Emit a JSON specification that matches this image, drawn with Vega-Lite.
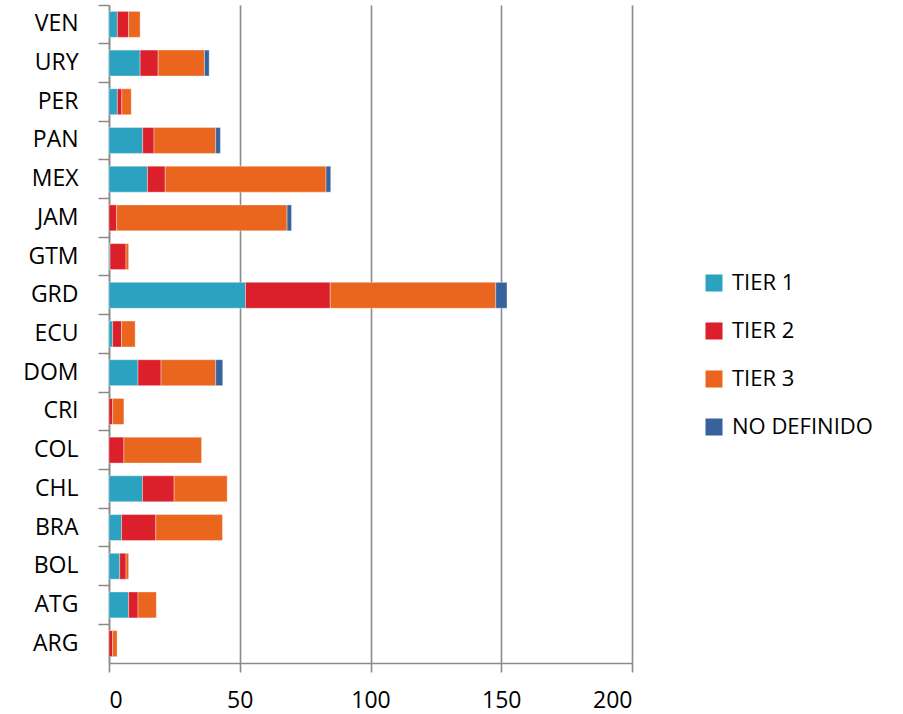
{
  "$schema": "https://vega.github.io/schema/vega-lite/v6.json",
  "width": 523,
  "height": 658,
  "autosize": "none",
  "padding": {"left": 109, "top": 5, "right": 271, "bottom": 51},
  "background": "white",
  "config": {
    "font": "Open Sans",
    "view": {"stroke": null}
  },
  "data": {
    "values": [
      {"pais": "VEN", "tier": "TIER 1", "n": 3.2},
      {"pais": "VEN", "tier": "TIER 2", "n": 4.3},
      {"pais": "VEN", "tier": "TIER 3", "n": 4.4},
      {"pais": "URY", "tier": "TIER 1", "n": 11.9},
      {"pais": "URY", "tier": "TIER 2", "n": 6.9},
      {"pais": "URY", "tier": "TIER 3", "n": 17.7},
      {"pais": "URY", "tier": "NO DEFINIDO", "n": 1.8},
      {"pais": "PER", "tier": "TIER 1", "n": 3.2},
      {"pais": "PER", "tier": "TIER 2", "n": 1.7},
      {"pais": "PER", "tier": "TIER 3", "n": 3.6},
      {"pais": "PAN", "tier": "TIER 1", "n": 12.9},
      {"pais": "PAN", "tier": "TIER 2", "n": 4.3},
      {"pais": "PAN", "tier": "TIER 3", "n": 23.6},
      {"pais": "PAN", "tier": "NO DEFINIDO", "n": 1.8},
      {"pais": "MEX", "tier": "TIER 1", "n": 14.7},
      {"pais": "MEX", "tier": "TIER 2", "n": 6.8},
      {"pais": "MEX", "tier": "TIER 3", "n": 61.5},
      {"pais": "MEX", "tier": "NO DEFINIDO", "n": 1.8},
      {"pais": "JAM", "tier": "TIER 2", "n": 2.9},
      {"pais": "JAM", "tier": "TIER 3", "n": 65.2},
      {"pais": "JAM", "tier": "NO DEFINIDO", "n": 1.7},
      {"pais": "GTM", "tier": "TIER 1", "n": 0.4},
      {"pais": "GTM", "tier": "TIER 2", "n": 6.1},
      {"pais": "GTM", "tier": "TIER 3", "n": 1},
      {"pais": "GRD", "tier": "TIER 1", "n": 52.2},
      {"pais": "GRD", "tier": "TIER 2", "n": 32.4},
      {"pais": "GRD", "tier": "TIER 3", "n": 63.3},
      {"pais": "GRD", "tier": "NO DEFINIDO", "n": 4.3},
      {"pais": "ECU", "tier": "TIER 1", "n": 1.4},
      {"pais": "ECU", "tier": "TIER 2", "n": 3.4},
      {"pais": "ECU", "tier": "TIER 3", "n": 5.2},
      {"pais": "DOM", "tier": "TIER 1", "n": 11.1},
      {"pais": "DOM", "tier": "TIER 2", "n": 8.8},
      {"pais": "DOM", "tier": "TIER 3", "n": 20.9},
      {"pais": "DOM", "tier": "NO DEFINIDO", "n": 2.7},
      {"pais": "CRI", "tier": "TIER 2", "n": 1.4},
      {"pais": "CRI", "tier": "TIER 3", "n": 4.3},
      {"pais": "COL", "tier": "TIER 2", "n": 5.7},
      {"pais": "COL", "tier": "TIER 3", "n": 29.7},
      {"pais": "CHL", "tier": "TIER 1", "n": 12.8},
      {"pais": "CHL", "tier": "TIER 2", "n": 12.1},
      {"pais": "CHL", "tier": "TIER 3", "n": 20.3},
      {"pais": "BRA", "tier": "TIER 1", "n": 4.8},
      {"pais": "BRA", "tier": "TIER 2", "n": 13.1},
      {"pais": "BRA", "tier": "TIER 3", "n": 25.5},
      {"pais": "BOL", "tier": "TIER 1", "n": 4.1},
      {"pais": "BOL", "tier": "TIER 2", "n": 2.4},
      {"pais": "BOL", "tier": "TIER 3", "n": 1},
      {"pais": "ATG", "tier": "TIER 1", "n": 7.5},
      {"pais": "ATG", "tier": "TIER 2", "n": 3.6},
      {"pais": "ATG", "tier": "TIER 3", "n": 7},
      {"pais": "ARG", "tier": "TIER 2", "n": 1.4},
      {"pais": "ARG", "tier": "TIER 3", "n": 1.7}
    ]
  },
  "transform": [
    {"calculate": "indexof(['TIER 1', 'TIER 2', 'TIER 3', 'NO DEFINIDO'], datum.tier)", "as": "orden"}
  ],
  "mark": {
    "type": "bar",
    "height": {"band": 0.67},
    "stroke": "white",
    "strokeWidth": 0.6,
    "strokeOpacity": 0.6
  },
  "encoding": {
    "y": {
      "field": "pais",
      "type": "nominal",
      "sort": "descending",
      "title": null,
      "scale": {"paddingInner": 0, "paddingOuter": 0},
      "axis": {
        "bandPosition": 0,
        "domainColor": "#8a8a8a",
        "domainWidth": 1.5,
        "tickColor": "#8a8a8a",
        "tickWidth": 1.5,
        "tickSize": 11,
        "labelFontSize": 23,
        "labelColor": "black",
        "labelPadding": 20
      }
    },
    "x": {
      "field": "n",
      "type": "quantitative",
      "title": null,
      "scale": {"domain": [0, 200], "nice": false},
      "axis": {
        "values": [0, 50, 100, 150, 200],
        "grid": true,
        "gridColor": "#8a8a8a",
        "gridWidth": 1.6,
        "domainColor": "#8a8a8a",
        "domainWidth": 1.6,
        "tickColor": "#8a8a8a",
        "tickWidth": 1.6,
        "tickSize": 9,
        "labelFontSize": 23,
        "labelColor": "black",
        "labelPadding": 17
      }
    },
    "color": {
      "field": "tier",
      "type": "nominal",
      "scale": {
        "domain": ["TIER 1", "TIER 2", "TIER 3", "NO DEFINIDO"],
        "range": ["#2ba3c0", "#db1f2b", "#ea651e", "#38629c"]
      },
      "legend": {
        "title": null,
        "orient": "none",
        "legendX": 594,
        "legendY": 267,
        "symbolType": "square",
        "symbolSize": 290,
        "symbolStrokeWidth": 0,
        "labelFontSize": 22,
        "labelColor": "black",
        "labelOffset": 7,
        "rowPadding": 26
      }
    },
    "order": {"field": "orden", "type": "quantitative"}
  }
}
